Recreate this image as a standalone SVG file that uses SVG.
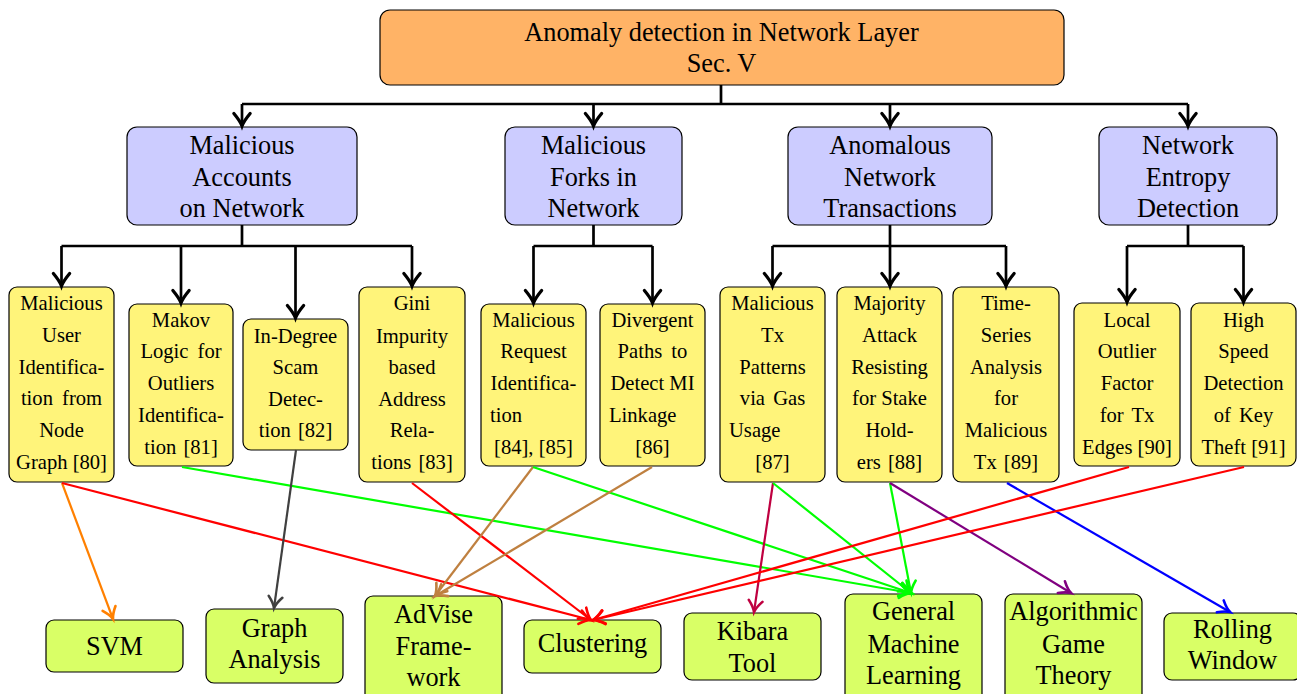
<svg xmlns="http://www.w3.org/2000/svg" width="1297" height="694" viewBox="0 0 1297 694">
<style>
text{font-family:"Liberation Serif","Times New Roman",serif;fill:#000;text-anchor:middle}
.big{font-size:26.3px}
.sm{font-size:20.6px}
.box{stroke:#000;stroke-width:1.2}
.root{fill:#FFB366}
.mid{fill:#CCCCFF}
.leaf{fill:#FFF47A}
.bot{fill:#D9FF66}
.tree{fill:none;stroke:#000;stroke-width:2.7}
.arr{fill:none;stroke-width:2.2}
</style>
<defs>
<marker id="ak" markerUnits="userSpaceOnUse" markerWidth="20" markerHeight="20" viewBox="-12 -8 14 16" refX="0" refY="0" orient="auto" overflow="visible"><path d="M-10,-6.5 Q-4,-1.5 0,0 Q-4,1.5 -10,6.5" fill="none" stroke="#000" stroke-width="2.6" stroke-linecap="round"/></marker>
<marker id="a-or" markerUnits="userSpaceOnUse" markerWidth="20" markerHeight="20" viewBox="-12 -8 14 16" refX="0" refY="0" orient="auto" overflow="visible"><path d="M-9,-5.5 Q-4,-1.2 0,0 Q-4,1.2 -9,5.5" fill="none" stroke="#FF8000" stroke-width="2.1" stroke-linecap="round"/></marker>
<marker id="a-rd" markerUnits="userSpaceOnUse" markerWidth="20" markerHeight="20" viewBox="-12 -8 14 16" refX="0" refY="0" orient="auto" overflow="visible"><path d="M-9,-5.5 Q-4,-1.2 0,0 Q-4,1.2 -9,5.5" fill="none" stroke="#FF0000" stroke-width="2.1" stroke-linecap="round"/></marker>
<marker id="a-gr" markerUnits="userSpaceOnUse" markerWidth="20" markerHeight="20" viewBox="-12 -8 14 16" refX="0" refY="0" orient="auto" overflow="visible"><path d="M-9,-5.5 Q-4,-1.2 0,0 Q-4,1.2 -9,5.5" fill="none" stroke="#00FF00" stroke-width="2.1" stroke-linecap="round"/></marker>
<marker id="a-dg" markerUnits="userSpaceOnUse" markerWidth="20" markerHeight="20" viewBox="-12 -8 14 16" refX="0" refY="0" orient="auto" overflow="visible"><path d="M-9,-5.5 Q-4,-1.2 0,0 Q-4,1.2 -9,5.5" fill="none" stroke="#404040" stroke-width="2.1" stroke-linecap="round"/></marker>
<marker id="a-br" markerUnits="userSpaceOnUse" markerWidth="20" markerHeight="20" viewBox="-12 -8 14 16" refX="0" refY="0" orient="auto" overflow="visible"><path d="M-9,-5.5 Q-4,-1.2 0,0 Q-4,1.2 -9,5.5" fill="none" stroke="#BF8040" stroke-width="2.1" stroke-linecap="round"/></marker>
<marker id="a-cr" markerUnits="userSpaceOnUse" markerWidth="20" markerHeight="20" viewBox="-12 -8 14 16" refX="0" refY="0" orient="auto" overflow="visible"><path d="M-9,-5.5 Q-4,-1.2 0,0 Q-4,1.2 -9,5.5" fill="none" stroke="#BF0040" stroke-width="2.1" stroke-linecap="round"/></marker>
<marker id="a-pu" markerUnits="userSpaceOnUse" markerWidth="20" markerHeight="20" viewBox="-12 -8 14 16" refX="0" refY="0" orient="auto" overflow="visible"><path d="M-9,-5.5 Q-4,-1.2 0,0 Q-4,1.2 -9,5.5" fill="none" stroke="#800080" stroke-width="2.1" stroke-linecap="round"/></marker>
<marker id="a-bl" markerUnits="userSpaceOnUse" markerWidth="20" markerHeight="20" viewBox="-12 -8 14 16" refX="0" refY="0" orient="auto" overflow="visible"><path d="M-9,-5.5 Q-4,-1.2 0,0 Q-4,1.2 -9,5.5" fill="none" stroke="#0000FF" stroke-width="2.1" stroke-linecap="round"/></marker>
</defs>
<rect width="1297" height="694" fill="#fff"/>

<g id="root">
<rect class="box root" x="380" y="10" width="684" height="75" rx="10"/>
<text class="big" x="721.5" y="41">Anomaly detection in Network Layer</text>
<text class="big" x="721.5" y="72">Sec. V</text>
</g>

<g id="mid-accounts">
<rect class="box mid" x="127" y="127" width="230" height="98" rx="10"/>
<text class="big" x="242" y="154">Malicious</text>
<text class="big" x="242" y="186">Accounts</text>
<text class="big" x="242" y="217">on Network</text>
</g>
<g id="mid-forks">
<rect class="box mid" x="505" y="127" width="177" height="98" rx="10"/>
<text class="big" x="593.5" y="154">Malicious</text>
<text class="big" x="593.5" y="186">Forks in</text>
<text class="big" x="593.5" y="217">Network</text>
</g>
<g id="mid-transactions">
<rect class="box mid" x="788" y="127" width="204" height="98" rx="10"/>
<text class="big" x="890" y="154">Anomalous</text>
<text class="big" x="890" y="186">Network</text>
<text class="big" x="890" y="217">Transactions</text>
</g>
<g id="mid-entropy">
<rect class="box mid" x="1099" y="127" width="178" height="98" rx="10"/>
<text class="big" x="1188" y="154">Network</text>
<text class="big" x="1188" y="186">Entropy</text>
<text class="big" x="1188" y="217">Detection</text>
</g>

<g id="leaf-80">
<rect class="box leaf" x="9" y="287" width="105" height="195" rx="8"/>
<text class="sm" x="61.5" y="310">Malicious</text>
<text class="sm" x="61.5" y="342">User</text>
<text class="sm" x="61.5" y="374">Identifica-</text>
<text class="sm" x="61.5" y="405" word-spacing="4">tion from</text>
<text class="sm" x="61.5" y="437">Node</text>
<text class="sm" x="61.5" y="469">Graph [80]</text>
</g>
<g id="leaf-81">
<rect class="box leaf" x="129" y="304" width="104" height="162" rx="8"/>
<text class="sm" x="181" y="327">Makov</text>
<text class="sm" x="181" y="358" word-spacing="4">Logic for</text>
<text class="sm" x="181" y="390">Outliers</text>
<text class="sm" x="181" y="422">Identifica-</text>
<text class="sm" x="181" y="454" word-spacing="2">tion [81]</text>
</g>
<g id="leaf-82">
<rect class="box leaf" x="243" y="319" width="105" height="131" rx="8"/>
<text class="sm" x="295.5" y="343">In-Degree</text>
<text class="sm" x="295.5" y="374">Scam</text>
<text class="sm" x="295.5" y="406">Detec-</text>
<text class="sm" x="295.5" y="437" word-spacing="2">tion [82]</text>
</g>
<g id="leaf-83">
<rect class="box leaf" x="359" y="287" width="106" height="195" rx="8"/>
<text class="sm" x="412" y="310">Gini</text>
<text class="sm" x="412" y="343">Impurity</text>
<text class="sm" x="412" y="374">based</text>
<text class="sm" x="412" y="406">Address</text>
<text class="sm" x="412" y="437">Rela-</text>
<text class="sm" x="412" y="469" word-spacing="2">tions [83]</text>
</g>
<g id="leaf-84-85">
<rect class="box leaf" x="481" y="304" width="105" height="162" rx="8"/>
<text class="sm" x="533.5" y="327">Malicious</text>
<text class="sm" x="533.5" y="358">Request</text>
<text class="sm" x="533.5" y="390">Identifica-</text>
<text class="sm" x="490" y="422" style="text-anchor:start">tion</text>
<text class="sm" x="533.5" y="454">[84], [85]</text>
</g>
<g id="leaf-86">
<rect class="box leaf" x="600" y="304" width="105" height="162" rx="8"/>
<text class="sm" x="652.5" y="327">Divergent</text>
<text class="sm" x="652.5" y="358" word-spacing="4">Paths to</text>
<text class="sm" x="652.5" y="390">Detect MI</text>
<text class="sm" x="609" y="422" style="text-anchor:start">Linkage</text>
<text class="sm" x="652.5" y="454">[86]</text>
</g>
<g id="leaf-87">
<rect class="box leaf" x="720" y="287" width="105" height="195" rx="8"/>
<text class="sm" x="772.5" y="310">Malicious</text>
<text class="sm" x="772.5" y="342">Tx</text>
<text class="sm" x="772.5" y="374">Patterns</text>
<text class="sm" x="772.5" y="405" word-spacing="3">via Gas</text>
<text class="sm" x="729" y="437" style="text-anchor:start">Usage</text>
<text class="sm" x="772.5" y="469">[87]</text>
</g>
<g id="leaf-88">
<rect class="box leaf" x="837" y="287" width="105" height="195" rx="8"/>
<text class="sm" x="889.5" y="310">Majority</text>
<text class="sm" x="889.5" y="342">Attack</text>
<text class="sm" x="889.5" y="374">Resisting</text>
<text class="sm" x="889.5" y="405">for Stake</text>
<text class="sm" x="889.5" y="437">Hold-</text>
<text class="sm" x="889.5" y="469" word-spacing="2">ers [88]</text>
</g>
<g id="leaf-89">
<rect class="box leaf" x="953" y="287" width="106" height="195" rx="8"/>
<text class="sm" x="1006" y="310">Time-</text>
<text class="sm" x="1006" y="342">Series</text>
<text class="sm" x="1006" y="374">Analysis</text>
<text class="sm" x="1006" y="405">for</text>
<text class="sm" x="1006" y="437">Malicious</text>
<text class="sm" x="1006" y="469" word-spacing="2">Tx [89]</text>
</g>
<g id="leaf-90">
<rect class="box leaf" x="1074" y="303" width="106" height="163" rx="8"/>
<text class="sm" x="1127" y="327">Local</text>
<text class="sm" x="1127" y="358">Outlier</text>
<text class="sm" x="1127" y="390">Factor</text>
<text class="sm" x="1127" y="422" word-spacing="3">for Tx</text>
<text class="sm" x="1127" y="454">Edges [90]</text>
</g>
<g id="leaf-91">
<rect class="box leaf" x="1191" y="303" width="105" height="163" rx="8"/>
<text class="sm" x="1243.5" y="327">High</text>
<text class="sm" x="1243.5" y="358">Speed</text>
<text class="sm" x="1243.5" y="390">Detection</text>
<text class="sm" x="1243.5" y="422" word-spacing="3">of Key</text>
<text class="sm" x="1243.5" y="454">Theft [91]</text>
</g>

<g id="svm">
<rect class="box bot" x="46" y="620" width="137" height="52" rx="8"/>
<text class="big" x="114.5" y="655">SVM</text>
</g>
<g id="graph-analysis">
<rect class="box bot" x="206" y="609" width="137" height="74" rx="8"/>
<text class="big" x="274.5" y="637">Graph</text>
<text class="big" x="274.5" y="668">Analysis</text>
</g>
<g id="advise">
<rect class="box bot" x="365" y="596" width="137" height="110" rx="8"/>
<text class="big" x="433.5" y="623">AdVise</text>
<text class="big" x="433.5" y="655">Frame-</text>
<text class="big" x="433.5" y="686">work</text>
</g>
<g id="clustering">
<rect class="box bot" x="524" y="620" width="137" height="53" rx="8"/>
<text class="big" x="592.5" y="652">Clustering</text>
</g>
<g id="kibara">
<rect class="box bot" x="684" y="613" width="137" height="67" rx="8"/>
<text class="big" x="752.5" y="640">Kibara</text>
<text class="big" x="752.5" y="672">Tool</text>
</g>
<g id="general-ml">
<rect class="box bot" x="845" y="594" width="137" height="110" rx="8"/>
<text class="big" x="913.5" y="620">General</text>
<text class="big" x="913.5" y="653">Machine</text>
<text class="big" x="913.5" y="684">Learning</text>
</g>
<g id="game-theory">
<rect class="box bot" x="1005" y="594" width="137" height="110" rx="8"/>
<text class="big" x="1073.5" y="620">Algorithmic</text>
<text class="big" x="1073.5" y="653">Game</text>
<text class="big" x="1073.5" y="684">Theory</text>
</g>
<g id="rolling-window">
<rect class="box bot" x="1164" y="613" width="137" height="67" rx="8"/>
<text class="big" x="1232.5" y="638">Rolling</text>
<text class="big" x="1232.5" y="669">Window</text>
</g>

<g id="connectors">
<path class="tree" d="M721,85 V104 M242,104 H1188"/>
<path class="tree" d="M242,104 V126" marker-end="url(#ak)"/>
<path class="tree" d="M593.5,104 V126" marker-end="url(#ak)"/>
<path class="tree" d="M890,104 V126" marker-end="url(#ak)"/>
<path class="tree" d="M1188,104 V126" marker-end="url(#ak)"/>

<path class="tree" d="M242,225 V246 M61.5,246 H412"/>
<path class="tree" d="M61.5,246 V286" marker-end="url(#ak)"/>
<path class="tree" d="M181,246 V303" marker-end="url(#ak)"/>
<path class="tree" d="M295.5,246 V318" marker-end="url(#ak)"/>
<path class="tree" d="M412,246 V286" marker-end="url(#ak)"/>

<path class="tree" d="M593.5,225 V246 M533.5,246 H652.5"/>
<path class="tree" d="M533.5,246 V303" marker-end="url(#ak)"/>
<path class="tree" d="M652.5,246 V303" marker-end="url(#ak)"/>

<path class="tree" d="M890,225 V246 M772.5,246 H1006"/>
<path class="tree" d="M772.5,246 V286" marker-end="url(#ak)"/>
<path class="tree" d="M890,246 V286" marker-end="url(#ak)"/>
<path class="tree" d="M1006,246 V286" marker-end="url(#ak)"/>

<path class="tree" d="M1188,225 V246 M1127,246 H1243.5"/>
<path class="tree" d="M1127,246 V302" marker-end="url(#ak)"/>
<path class="tree" d="M1243.5,246 V302" marker-end="url(#ak)"/>

<path class="arr" stroke="#FF8000" d="M62,483 L113,619" marker-end="url(#a-or)"/>
<path class="arr" stroke="#FF0000" d="M62,483 L591,620" marker-end="url(#a-rd)"/>
<path class="arr" stroke="#00FF00" d="M182,467 L911,593" marker-end="url(#a-gr)"/>
<path class="arr" stroke="#404040" d="M296,450 L274,608" marker-end="url(#a-dg)"/>
<path class="arr" stroke="#FF0000" d="M412,483 L591,620" marker-end="url(#a-rd)"/>
<path class="arr" stroke="#BF8040" d="M533,467 L435,596" marker-end="url(#a-br)"/>
<path class="arr" stroke="#00FF00" d="M533,467 L911,593" marker-end="url(#a-gr)"/>
<path class="arr" stroke="#BF8040" d="M652,467 L435,596" marker-end="url(#a-br)"/>
<path class="arr" stroke="#BF0040" d="M773,483 L754,612" marker-end="url(#a-cr)"/>
<path class="arr" stroke="#00FF00" d="M773,483 L911,593" marker-end="url(#a-gr)"/>
<path class="arr" stroke="#00FF00" d="M890,483 L911,593" marker-end="url(#a-gr)"/>
<path class="arr" stroke="#800080" d="M890,483 L1071,593" marker-end="url(#a-pu)"/>
<path class="arr" stroke="#0000FF" d="M1007,483 L1230,612" marker-end="url(#a-bl)"/>
<path class="arr" stroke="#FF0000" d="M1129,467 L593,620" marker-end="url(#a-rd)"/>
<path class="arr" stroke="#FF0000" d="M1244,467 L593,620" marker-end="url(#a-rd)"/>
</g>
</svg>
